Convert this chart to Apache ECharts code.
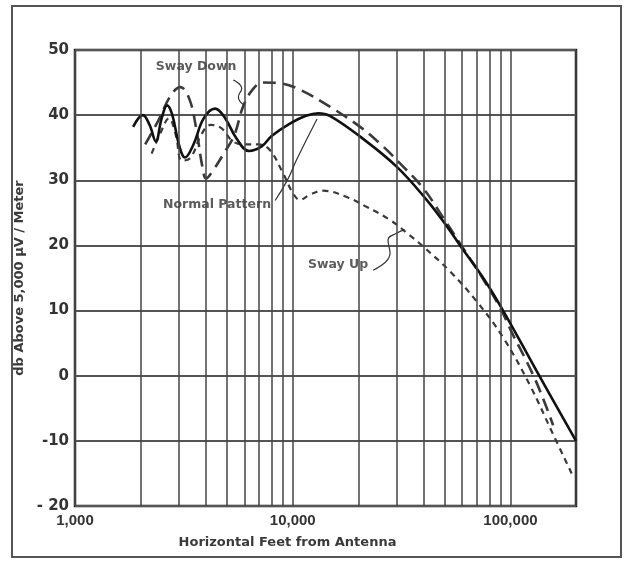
<!DOCTYPE html>
<html><head><meta charset="utf-8">
<script src="https://cdn.jsdelivr.net/npm/echarts@6/dist/echarts.min.js"></script>
<style>html,body{margin:0;padding:0;background:#fff}#c{width:626px;height:565px}</style>
</head><body><div id="c"></div>
<script>
// ---- data (feet from antenna, dB above 5,000 µV/m) ----
const normalFeet = [1850, 2050, 2200, 2350, 2500, 2650, 2800, 3000, 3200, 3500, 3900, 4400, 4900, 5500, 6300, 7200, 8000, 9700, 11500, 13100, 14800, 20400, 30000, 41200, 50900, 58700, 75000, 92500, 132000, 200000];
const normalDb   = [38.2, 40.0, 38.5, 36.0, 39.5, 41.5, 40.0, 35.5, 33.5, 35.5, 39.5, 41.0, 39.5, 36.5, 34.5, 35.2, 36.8, 38.7, 39.9, 40.3, 39.9, 36.7, 32.1, 27.0, 23.0, 20.0, 15.0, 10.0, 0.7, -10.0];

const swayDownFeet = [2100, 2400, 2750, 3050, 3350, 3600, 3850, 4000, 4300, 4800, 5400, 5900, 6500, 7300, 8700, 10800, 14800, 20400, 26000, 31100, 39700, 47500, 60000, 75000, 90000, 103000, 115000, 130000, 145000, 157000];
const swayDownDb   = [35.5, 39.0, 43.0, 44.3, 42.5, 38.0, 32.0, 30.3, 31.5, 34.0, 37.0, 41.2, 43.8, 45.0, 44.9, 43.9, 41.3, 38.2, 35.2, 32.6, 28.8, 25.0, 19.8, 14.8, 10.3, 6.2, 3.1, -0.6, -4.5, -7.6];

const swayUpFeet = [2250, 2450, 2700, 2900, 3100, 3400, 3800, 4200, 4700, 5300, 6000, 7000, 7870, 9020, 10030, 10800, 12000, 13800, 17800, 21900, 28000, 33500, 39800, 52800, 70000, 92800, 123000, 155000, 191000];
const swayUpDb   = [34.1, 37.0, 39.5, 37.0, 33.0, 33.5, 37.0, 38.5, 38.0, 36.0, 35.5, 35.5, 34.6, 31.1, 28.0, 27.0, 27.8, 28.4, 27.4, 25.9, 23.9, 21.9, 19.8, 16.0, 11.4, 5.8, -1.5, -8.6, -15.0];

// annotation texts and their anchor points
const noteText = ['Sway Down', 'Normal Pattern', 'Sway Up'];
const noteFeet = [3600, 4490, 16150];
const noteDb   = [47.4, 26.2, 17.1];

// leader lines
const leadDownFeet = [5330, 5830, 5630, 5940];
const leadDownDb   = [45.4, 44.1, 42.8, 41.6];
const leadNormFeet = [8300, 9420, 10470, 12930];
const leadNormDb   = [26.9, 29.95, 33.3, 39.4];
const leadUpFeet   = [23400, 28000, 27400, 30100, 32700];
const leadUpDb     = [16.2, 18.8, 20.8, 21.9, 22.4];

// axis
const xTickLabels = {1000: '1,000', 10000: '10,000', 100000: '100,000'};
const minorGridFeet = [2000, 3000, 4000, 5000, 6000, 7000, 8000, 9000, 20000, 30000, 40000, 50000, 60000, 70000, 80000, 90000];

const zip = (a, b) => a.map((v, i) => [v, b[i]]);
const font = '"DejaVu Sans", sans-serif';
const chart = echarts.init(document.getElementById('c'), null, {renderer: 'canvas'});

const leaderStyle = {color: '#333', width: 1.2};
chart.setOption({
  animation: false,
  backgroundColor: '#fff',
  graphic: [{type: 'rect', shape: {x: 12, y: 6, width: 609, height: 551}, style: {fill: null, stroke: '#555', lineWidth: 2}, silent: true}],
  grid: {left: 75, right: 50, top: 50, bottom: 59, show: true, borderColor: '#1a1a1a', borderWidth: 2.5, backgroundColor: '#fff'},
  xAxis: {
    type: 'log', logBase: 10, min: 1000, max: 200000,
    name: 'Horizontal Feet from Antenna', nameLocation: 'middle', nameGap: 30,
    nameTextStyle: {fontFamily: font, fontWeight: 'bold', fontSize: 13, color: '#3a3a3a', padding: [0, 76, 0, 0]},
    axisLine: {show: false}, axisTick: {show: false},
    axisLabel: {margin: 7, fontFamily: '"Liberation Sans", sans-serif', fontWeight: 'bold', fontSize: 15, color: '#333',
      alignMinLabel: 'left', showMaxLabel: false,
      formatter: v => xTickLabels[Math.round(v)] || ''},
    splitLine: {show: true, lineStyle: {color: '#444', width: 1.5}}
  },
  yAxis: {
    type: 'value', min: -20, max: 50, interval: 10,
    name: 'db Above 5,000 µV / Meter', nameLocation: 'middle', nameGap: 33,
    nameTextStyle: {fontFamily: font, fontWeight: 'bold', fontSize: 13, color: '#3a3a3a'},
    axisLine: {show: false}, axisTick: {show: false},
    axisLabel: {margin: 6, fontFamily: font, fontWeight: 'bold', fontSize: 15, color: '#333',
      formatter: v => v === -20 ? '- 20' : String(v)},
    splitLine: {show: true, lineStyle: {color: '#555', width: 2}}
  },
  series: [
    {type: 'line', data: [], silent: true,
      markLine: {silent: true, symbol: 'none', label: {show: false}, emphasis: {disabled: true},
        lineStyle: {type: 'solid', color: '#444', width: 1.5},
        data: minorGridFeet.map(v => ({xAxis: v}))}},
    {name: 'Sway Down', type: 'line', data: zip(swayDownFeet, swayDownDb), smooth: 0.4, symbol: 'none', silent: true,
      lineStyle: {color: '#3a3a3a', width: 2.6, type: [13, 7]}},
    {name: 'Sway Up', type: 'line', data: zip(swayUpFeet, swayUpDb), smooth: 0.4, symbol: 'none', silent: true,
      lineStyle: {color: '#3a3a3a', width: 2.2, type: [6, 5]}},
    {name: 'Normal Pattern', type: 'line', data: zip(normalFeet, normalDb), smooth: 0.4, symbol: 'none', silent: true,
      lineStyle: {color: '#111', width: 2.6}},
    {type: 'line', data: zip(leadDownFeet, leadDownDb), smooth: 0.5, symbol: 'none', silent: true, lineStyle: leaderStyle},
    {type: 'line', data: zip(leadNormFeet, leadNormDb), smooth: 0.5, symbol: 'none', silent: true, lineStyle: leaderStyle},
    {type: 'line', data: zip(leadUpFeet, leadUpDb), smooth: 0.5, symbol: 'none', silent: true, lineStyle: leaderStyle},
    {type: 'scatter', symbolSize: 0, silent: true,
      data: noteText.map((t, i) => ({name: t, value: [noteFeet[i], noteDb[i]]})),
      label: {show: true, position: 'inside', formatter: '{b}', fontFamily: font, fontWeight: 'bold', fontSize: 12.5, color: '#333'}}
  ]
});
</script>
</body></html>
